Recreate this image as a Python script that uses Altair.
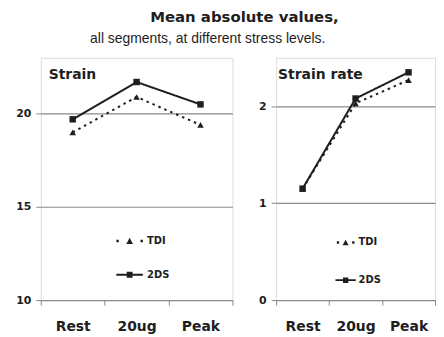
import altair as alt
import pandas as pd

stages = ["Rest", "20ug", "Peak"]
series = ["TDI", "2DS"]
strain_tdi = [19.0, 20.9, 19.4]
strain_2ds = [19.7, 21.7, 20.5]
rate_tdi = [1.15, 2.03, 2.27]
rate_2ds = [1.15, 2.08, 2.35]

BOLD = "DejaVu Sans"
REG = "Liberation Sans"
INK = "#1e1e1e"

def make_df(tdi, ds):
    rows = []
    for s, v in zip(stages, tdi):
        rows.append({"stage": s, "series": "TDI", "value": v})
    for s, v in zip(stages, ds):
        rows.append({"stage": s, "series": "2DS", "value": v})
    return pd.DataFrame(rows)

legend_paths_left = [
    "M-1,-0.09H-0.82V0.09H-1ZM-0.25,0.22L0,-0.24L0.25,0.22ZM0.82,-0.09H1V0.09H0.82Z",
    "M-1,-0.07H1V0.07H-1ZM-0.22,-0.22H0.22V0.22H-0.22Z",
]
legend_paths_right = [
    "M-1,-0.13H-0.74V0.13H-1ZM-0.34,0.3L0,-0.32L0.34,0.3ZM0.74,-0.13H1V0.13H0.74Z",
    "M-1.15,-0.1H1.15V0.1H-1.15ZM-0.3,-0.3H0.3V0.3H-0.3Z",
]

def panel(df, title, title_dx, domain, ticks, lx, ly, sym, rowpad, paths, width):
    x = alt.X("stage:N", sort=stages, bandPosition=0.5,
              scale=alt.Scale(type="band", paddingInner=0, paddingOuter=0),
              axis=alt.Axis(title=None, labelAngle=0, tickBand="extent", grid=False,
                            domain=False, tickColor="#888", tickSize=5,
                            labelFont=BOLD, labelFontSize=14, labelFontWeight="bold",
                            labelColor=INK, labelPadding=15))
    y = alt.Y("value:Q", scale=alt.Scale(domain=domain, nice=False, zero=False),
              axis=alt.Axis(title=None, values=ticks, grid=True, gridColor="#8a8a8a",
                            gridWidth=1.2, domain=False, tickColor="#888", tickSize=5,
                            labelFont=BOLD, labelFontSize=11, labelFontWeight="bold",
                            labelColor=INK, labelPadding=5))
    base = alt.Chart(df)
    lines = base.mark_line(color=INK, strokeWidth=2).encode(
        x=x, y=y, detail="series:N",
        strokeDash=alt.StrokeDash("series:N", scale=alt.Scale(domain=series, range=[[2.5, 4], [1, 0]]), legend=None),
    )
    pts = base.mark_point(filled=True, color=INK, opacity=1, size=42).encode(
        x=x, y=y,
        shape=alt.Shape("series:N", scale=alt.Scale(domain=series, range=["triangle-up", "square"]), legend=None),
    )
    leg = base.mark_point(filled=True, color=INK, opacity=0, size=36).encode(
        x=x, y=y,
        shape=alt.Shape("series:N", scale=alt.Scale(domain=series, range=paths),
                        legend=alt.Legend(orient="none", legendX=lx, legendY=ly, title=None,
                                          symbolOpacity=1, symbolFillColor=INK, symbolStrokeColor=INK,
                                          symbolStrokeWidth=0, symbolSize=sym, rowPadding=rowpad,
                                          labelFont=BOLD, labelFontSize=10, labelFontWeight="bold",
                                          labelColor=INK, labelOffset=4)),
    )
    return alt.layer(lines, pts, leg).resolve_scale(shape="independent").properties(
        width=width, height=244,
        title=alt.TitleParams(title, anchor="start", frame="group", dx=title_dx, dy=24, offset=0,
                              fontSize=14, fontWeight="bold", font=BOLD, color=INK),
    )

left = panel(make_df(strain_tdi, strain_2ds), "Strain", 8, [10, 23], [10, 15, 20], 76, 171, 711, 15,
             legend_paths_left, 193)
right = panel(make_df(rate_tdi, rate_2ds), "Strain rate", 2, [0, 2.5], [0, 1, 2], 61, 177, 316, 24,
              legend_paths_right, 160)

inner = alt.hconcat(left, right, spacing=24).resolve_scale(shape="independent", strokeDash="independent").properties(
    title=alt.TitleParams("all segments, at different stress levels.", anchor="middle", dx=-18, offset=11,
                          font=REG, fontSize=14, fontWeight="normal", color=INK),
)

chart = alt.vconcat(inner).properties(
    padding={"left": 7, "top": 0, "right": 0, "bottom": 0},
    title=alt.TitleParams("Mean absolute values,", anchor="middle", dx=19, offset=8,
                          font=BOLD, fontSize=15, fontWeight="bold", color=INK),
).configure_view(stroke="#8a8a8a", strokeWidth=1.2).configure(background="white")

chart.save("out.html", embed_options={"renderer": "svg", "actions": False})
